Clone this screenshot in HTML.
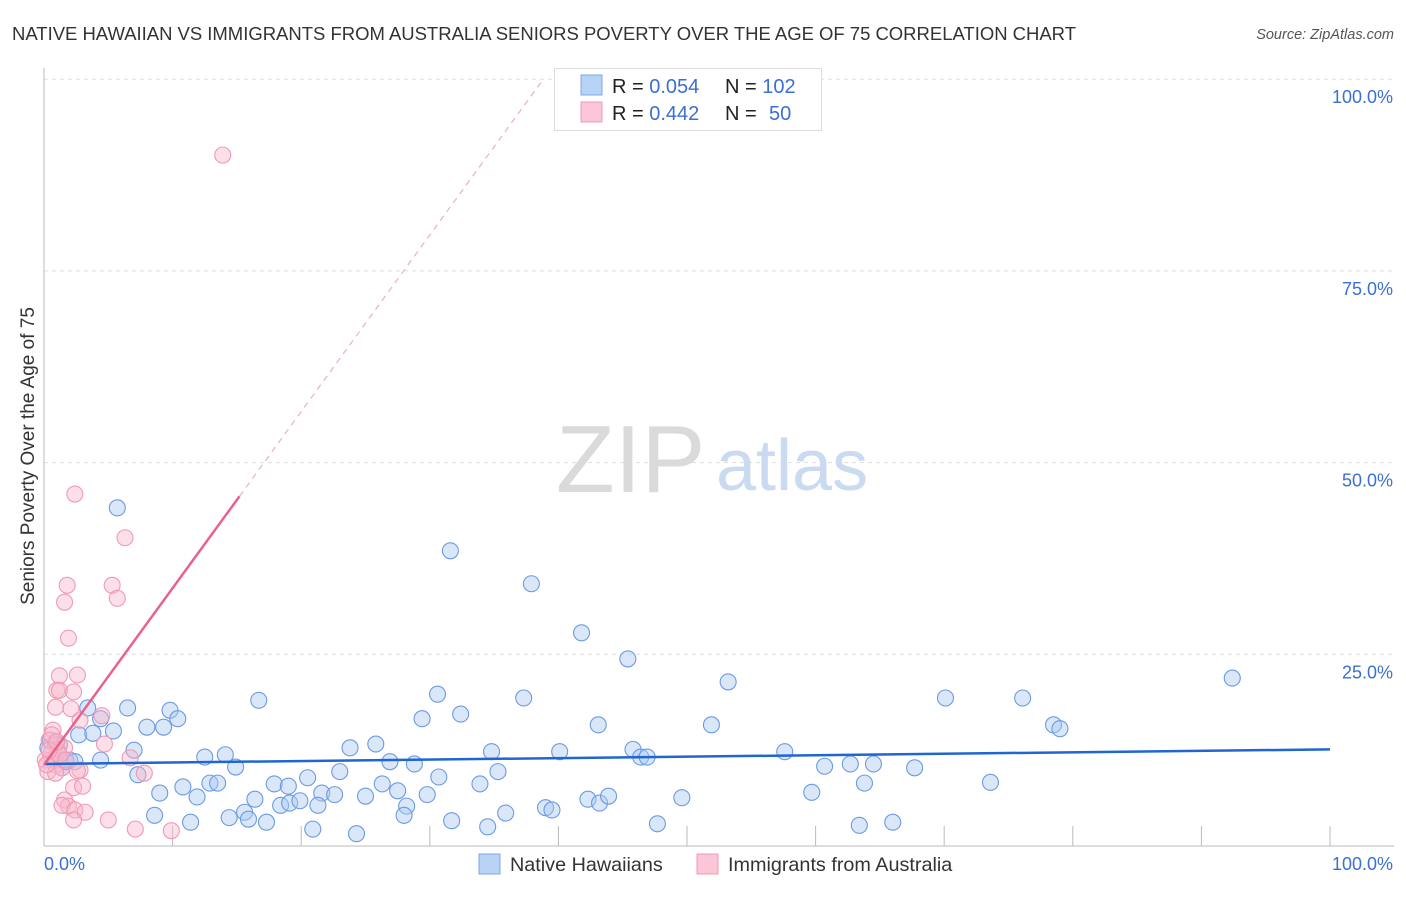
<!DOCTYPE html>
<html><head><meta charset="utf-8"><style>
body{margin:0;background:#fff;font-family:"Liberation Sans",sans-serif}
svg text{font-family:"Liberation Sans",sans-serif}
</style></head><body>
<svg id="chart" width="1406" height="892">
<text x="12" y="40" font-size="18.5" fill="#333" textLength="1064">NATIVE HAWAIIAN VS IMMIGRANTS FROM AUSTRALIA SENIORS POVERTY OVER THE AGE OF 75 CORRELATION CHART</text>
<text x="1394" y="39" font-size="14.5" fill="#555" font-style="italic" text-anchor="end">Source: ZipAtlas.com</text>
<text transform="translate(34,456) rotate(-90)" font-size="19" fill="#333" text-anchor="middle">Seniors Poverty Over the Age of 75</text>
<g id="grid"></g>
<text x="556" y="492" font-size="96" fill="#dadada" font-family="Liberation Serif">ZIP</text>
<text x="716" y="490" font-size="72" fill="#c9daf1">atlas</text>
<g id="pts"></g>
<g id="trend"></g>
<g>
<rect x="554.5" y="68.5" width="267" height="62" fill="#fff" stroke="#ddd"/>
<rect x="581" y="75" width="21" height="20" fill="#b8d3f5" stroke="#7aa7e6"/>
<rect x="581" y="102" width="21" height="20" fill="#fbc6d6" stroke="#f09ab5"/>
<text x="612" y="93" font-size="20" fill="#222">R = <tspan fill="#3b6fd4">0.054</tspan><tspan x="725">N = </tspan><tspan fill="#3b6fd4">102</tspan></text>
<text x="612" y="120" font-size="20" fill="#222">R = <tspan fill="#3b6fd4">0.442</tspan><tspan x="725">N = </tspan><tspan x="769" fill="#3b6fd4">50</tspan></text>
</g>
<g>
<rect x="479" y="854" width="21" height="20" fill="#b8d3f5" stroke="#7aa7e6"/>
<text x="510" y="871" font-size="19.8" fill="#333">Native Hawaiians</text>
<rect x="697" y="854" width="21" height="20" fill="#fbc6d6" stroke="#f09ab5"/>
<text x="728" y="871" font-size="19.8" fill="#333">Immigrants from Australia</text>
</g>
</svg>
<script>
const yTicks=[25,50,75,100];
const yTickLabels=["25.0%","50.0%","75.0%","100.0%"];
const xTickVals=[0,10,20,30,40,50,60,70,80,90,100];
const blueX=[5.7,31.6,37.9,41.8,45.4,53.2,92.4,70.1,76.1,16.7,37.3,30.6,6.5,9.8,3.4,32.4,10.4,29.4,4.4,43.1,51.9,78.5,79.0,8.0,9.3,2.7,3.8,5.4,25.8,23.8,34.8,40.1,45.8,57.6,7.0,12.5,14.1,46.4,46.9,26.9,28.8,14.9,60.7,62.7,64.5,67.7,23.0,35.3,30.7,1.4,0.9,0.3,1.7,7.3,9.0,10.8,12.9,13.5,17.9,19.0,20.5,21.6,22.6,25.0,26.3,27.5,29.8,33.9,11.9,16.4,18.4,19.1,19.9,21.3,28.2,39.0,39.5,42.3,43.2,43.9,49.6,59.7,63.8,73.6,8.6,15.6,15.9,17.3,28.0,31.7,35.9,11.4,14.4,20.9,24.3,34.5,47.7,63.4,66.0,2.0,1.2,0.5,2.4,4.4];
const blueY=[44.1,38.5,34.2,27.8,24.4,21.4,21.9,19.3,19.3,19.0,19.3,19.8,18.0,17.7,18.0,17.2,16.6,16.6,16.6,15.8,15.8,15.8,15.3,15.5,15.5,14.5,14.7,15.0,13.3,12.8,12.3,12.3,12.6,12.3,12.5,11.6,11.9,11.6,11.6,11.0,10.7,10.3,10.4,10.7,10.7,10.2,9.7,9.7,9.0,10.2,11.2,12.8,11.0,9.3,6.9,7.7,8.2,8.2,8.1,7.8,8.9,6.9,6.7,6.5,8.1,7.2,6.7,8.1,6.4,6.1,5.3,5.6,5.9,5.3,5.2,5.0,4.7,6.1,5.6,6.5,6.3,7.0,8.2,8.3,4.0,4.4,3.5,3.1,4.0,3.3,4.3,3.1,3.7,2.2,1.6,2.5,2.9,2.7,3.1,11.2,13.2,13.8,11.0,11.2];
const pinkX=[13.9,2.4,6.3,1.8,5.3,1.6,5.7,1.9,1.2,2.6,1.0,1.2,2.3,0.9,2.1,4.5,2.8,0.7,0.4,0.9,1.6,4.7,1.1,0.5,6.7,0.1,0.9,1.4,2.8,0.3,0.9,7.8,2.6,2.3,3.0,1.6,1.9,1.4,2.4,3.2,5.0,2.3,7.1,9.9,0.6,0.2,1.2,1.7,0.4,1.0];
const pinkY=[90.1,45.9,40.2,34.0,34.0,31.8,32.3,27.1,22.2,22.3,20.3,20.3,20.1,18.1,17.9,17.0,16.4,15.1,13.8,13.2,12.8,13.3,12.3,11.9,11.5,11.2,10.6,10.2,9.9,9.7,9.5,9.5,9.8,7.6,7.8,6.0,5.2,5.3,4.7,4.4,3.4,3.4,2.2,2.0,14.5,10.6,11.9,11.2,12.5,13.6];
const blueTrend=[10.7,12.6];
const pinkTrend=[10.6,45.6];
const pinkSolidEnd=15.2;

const NS="http://www.w3.org/2000/svg";
const X=v=>44+v*12.86, Y=v=>846-v*7.668;
function mk(tag,attrs,parent){const e=document.createElementNS(NS,tag);for(const k in attrs)e.setAttribute(k,attrs[k]);parent.appendChild(e);return e;}
const grid=document.getElementById('grid');
yTicks.forEach((t,i)=>{
  const l=mk('line',{x1:44,x2:1394,y1:Y(t),y2:Y(t),stroke:'#ddd','stroke-dasharray':'4,4'},grid);
  
  
  const tx=mk('text',{x:1393,y:Y(t)+24,'font-size':18,fill:'#3b6fd4','text-anchor':'end'},grid);
  tx.textContent=yTickLabels[i];
  
  
});
const ya=mk('line',{x1:44,x2:44,y1:68,y2:846,stroke:'#bbb'},grid);


const xa=mk('line',{x1:44,x2:1394,y1:846,y2:846,stroke:'#bbb'},grid);


xTickVals.forEach(v=>{
  const t=mk('line',{x1:X(v),x2:X(v),y1:826,y2:846,stroke:'#bbb'},grid);
  
  
});
const x0=mk('text',{x:44,y:870,'font-size':18,fill:'#3b6fd4'},grid);x0.textContent='0.0%';


const x1=mk('text',{x:1393,y:870,'font-size':18,fill:'#3b6fd4','text-anchor':'end'},grid);x1.textContent='100.0%';



const pts=document.getElementById('pts');
blueX.forEach((v,i)=>{
  const c=mk('circle',{cx:X(v),cy:Y(blueY[i]),r:8,fill:'rgba(170,202,242,0.45)',stroke:'#6b9be0','stroke-width':1.1},pts);
  
  
});
pinkX.forEach((v,i)=>{
  const c=mk('circle',{cx:X(v),cy:Y(pinkY[i]),r:8,fill:'rgba(248,184,204,0.45)',stroke:'#f09ab5','stroke-width':1.1},pts);
  
  
});
const tr=document.getElementById('trend');
const bl=mk('line',{x1:X(0),y1:Y(blueTrend[0]),x2:X(100),y2:Y(blueTrend[1]),stroke:'#1f66d1','stroke-width':2.5},tr);


const slope=(pinkTrend[1]-pinkTrend[0])/pinkSolidEnd;
const xEnd=(100-pinkTrend[0])/slope;
const pd=mk('line',{x1:X(pinkSolidEnd),y1:Y(pinkTrend[1]),x2:X(xEnd),y2:Y(100),stroke:'#eab0c4','stroke-width':1.2,'stroke-dasharray':'6,5'},tr);


const ps=mk('line',{x1:X(0),y1:Y(pinkTrend[0]),x2:X(pinkSolidEnd),y2:Y(pinkTrend[1]),stroke:'#e8628c','stroke-width':2.5},tr);


</script>
</body></html>
